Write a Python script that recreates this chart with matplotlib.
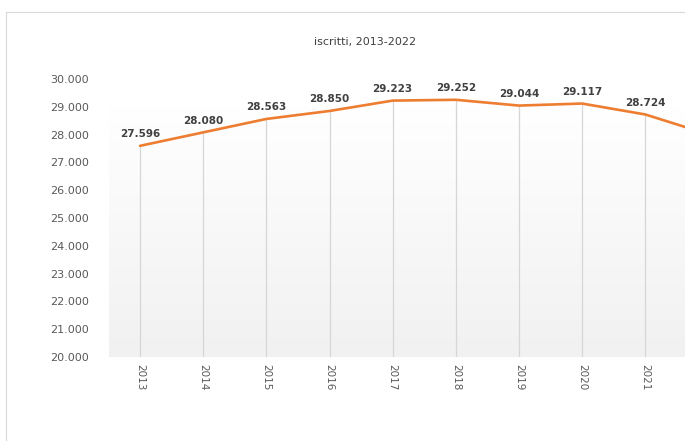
import matplotlib
matplotlib.use("Agg")
import matplotlib.pyplot as plt
import numpy as np
from matplotlib.lines import Line2D

years = ["2013", "2014", "2015", "2016", "2017", "2018", "2019", "2020", "2021", "2022"]
iscritti = [27596, 28080, 28563, 28850, 29223, 29252, 29044, 29117, 28724, 28010]
labels = ["27.596", "28.080", "28.563", "28.850", "29.223", "29.252", "29.044", "29.117", "28.724", "28.010"]
yticks = [20000, 21000, 22000, 23000, 24000, 25000, 26000, 27000, 28000, 29000, 30000]
ytick_labels = ["20.000", "21.000", "22.000", "23.000", "24.000", "25.000",
                "26.000", "27.000", "28.000", "29.000", "30.000"]

W, H = 685, 441
fig = plt.figure(figsize=(W / 100, H / 100), dpi=100)
fig.patch.set_facecolor("white")

# chart border (left and top)
fig.add_artist(Line2D([6/W, 6/W], [0, 1 - 12/H], color="#d9d9d9", lw=0.8))
fig.add_artist(Line2D([6/W, 1], [1 - 12/H, 1 - 12/H], color="#d9d9d9", lw=0.8))

ax_left, ax_right, ax_top, ax_bot = 108.5, 740, 79, 357
ax = fig.add_axes([ax_left/W, (H-ax_bot)/H, (ax_right-ax_left)/W, (ax_bot-ax_top)/H])
x = np.arange(len(years))
ax.set_xlim(-0.5, len(years) - 0.5)
ax.set_ylim(20000, 30000)

# gradient background: white at top, light grey at bottom
grad = np.linspace(0, 1, 256).reshape(-1, 1)
top = np.array([1.0, 1.0, 1.0])
bot = np.array([0.945, 0.945, 0.945])
img = top[None, None, :] + (bot - top)[None, None, :] * grad[:, :, None]
ax.imshow(img, extent=[-0.5, len(years) - 0.5, 20000, 29000], aspect="auto",
          zorder=0, origin="upper")

# drop lines
ax.vlines(x, 20000, iscritti, color="#d6d6d6", lw=0.9, zorder=1)
ax.plot(x, iscritti, color="#ED7D31", lw=1.9, zorder=3, solid_capstyle="round")

# only the labels that fall inside the visible canvas (the chart is cropped at the right)
step = (ax_right - ax_left) / len(years)
for xi, v, lab in zip(x, iscritti, labels):
    px = ax_left + step * (xi + 0.5)
    if px + 15 > W:
        continue
    ax.annotate(lab, (xi, v), xytext=(0, 8.5), textcoords="offset points",
                ha="center", va="center", fontsize=7.5, fontweight="bold",
                color="#404040", zorder=4)

ax.set_yticks(yticks)
ax.set_yticklabels(ytick_labels, fontsize=8, color="#595959")
ax.set_xticks(x)
xt = [y if ax_left + step * (i + 0.5) + 8 < W else "" for i, y in enumerate(years)]
ax.set_xticklabels(xt, rotation=270, fontsize=7.5, color="#595959",
                   family=["Liberation Sans Narrow", "DejaVu Sans"])
ax.tick_params(axis="y", length=0, pad=14)
ax.tick_params(axis="x", length=0, pad=5)
for s in ax.spines.values():
    s.set_visible(False)

fig.text(365/W, 1 - 42/H, "iscritti, 2013-2022", ha="center", va="center",
         fontsize=8, color="#404040")

fig.savefig("out.png", dpi=100, facecolor="white")
